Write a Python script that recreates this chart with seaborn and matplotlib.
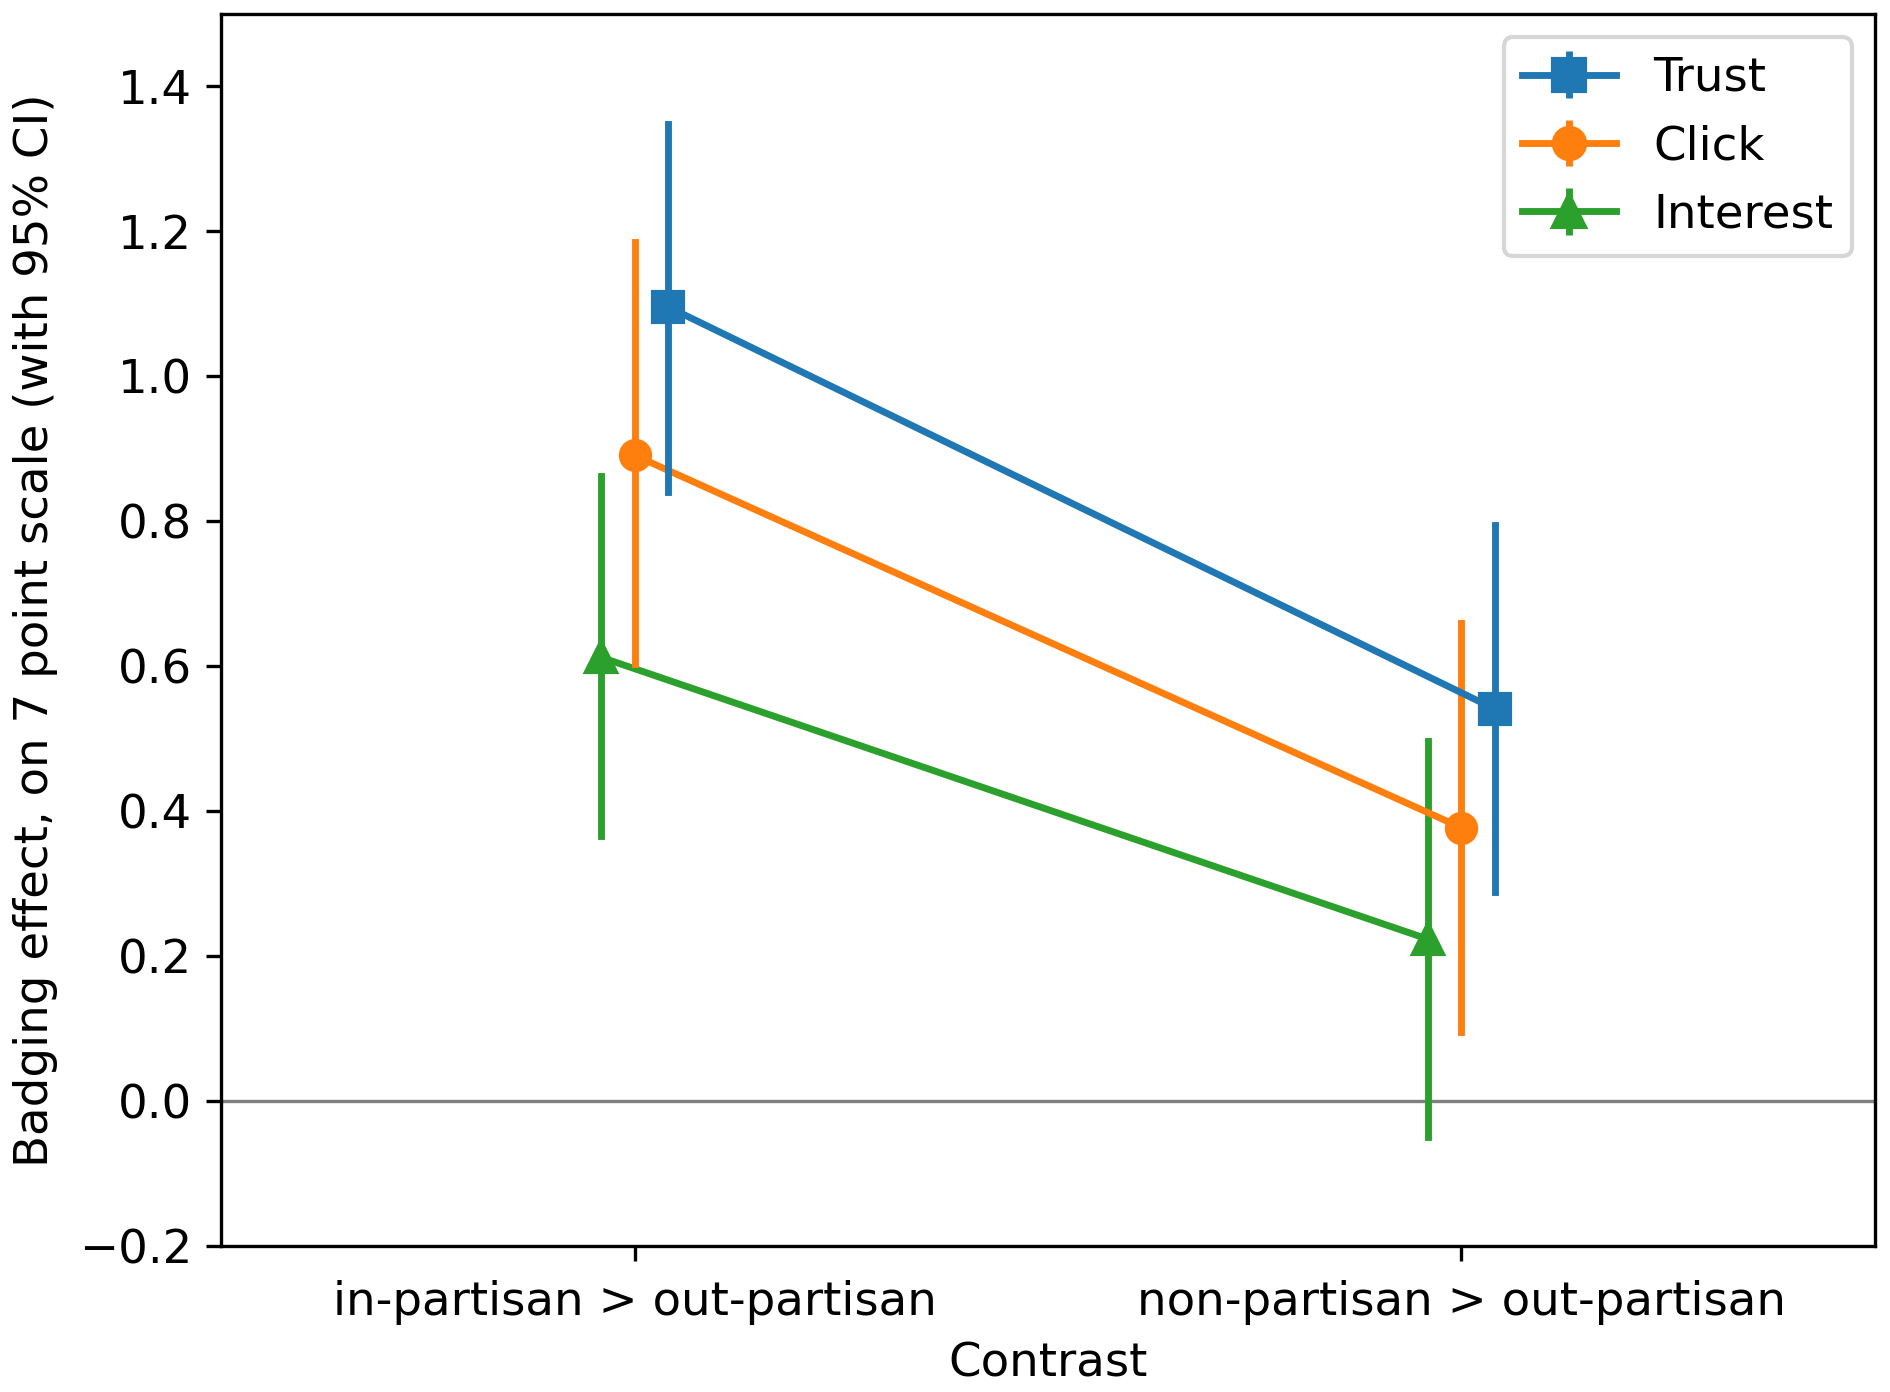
import numpy as np
import pandas as pd
import matplotlib
matplotlib.use("Agg")
import matplotlib.pyplot as plt
import seaborn as sns

# Kontras dan ukuran
contrasts = ["in-partisan > out-partisan", "non-partisan > out-partisan"]
measures = ["Trust", "Click", "Interest"]

# Estimasi efek dan batas 95% CI
trust_est = [1.096, 0.541]
trust_lo = [0.840, 0.288]
trust_hi = [1.348, 0.795]

click_est = [0.891, 0.377]
click_lo = [0.603, 0.095]
click_hi = [1.185, 0.660]

interest_est = [0.612, 0.223]
interest_lo = [0.365, -0.050]
interest_hi = [0.862, 0.496]

colors = {"Trust": "#1f77b4", "Click": "#ff7f0e", "Interest": "#2ca02c"}
markers = {"Trust": "s", "Click": "o", "Interest": "^"}

# Tabel panjang: tiap grup berisi [lo, est, hi] -> median = est, min/max = CI
series = {
    "Trust": (trust_lo, trust_est, trust_hi),
    "Click": (click_lo, click_est, click_hi),
    "Interest": (interest_lo, interest_est, interest_hi),
}
rows = []
for m, (lo, est, hi) in series.items():
    for i, c in enumerate(contrasts):
        for v in (lo[i], est[i], hi[i]):
            rows.append({"Contrast": c, "measure": m, "value": v})
df = pd.DataFrame(rows)

plt.rcParams["font.size"] = 11.2
plt.rcParams["xtick.major.pad"] = 4.6

fig, ax = plt.subplots(figsize=(6.3, 4.64), dpi=300)
fig.subplots_adjust(left=0.117, right=0.992, top=0.99, bottom=0.105)

hue_order = ["Interest", "Click", "Trust"]
ax.axhline(0, color="grey", lw=0.8, zorder=0)
sns.pointplot(
    data=df, x="Contrast", y="value", hue="measure", hue_order=hue_order,
    estimator="median", errorbar=lambda v: (v.min(), v.max()),
    dodge=0.08, markers=[markers[m] for m in hue_order],
    palette=colors, linewidth=1.65, markersize=7, markeredgewidth=1.0,
    err_kws={"linewidth": 1.65}, legend=False, ax=ax,
)

ax.set_ylim(-0.2, 1.5)
ax.set_xlim(-0.5, 1.5)
ax.set_xlabel("Contrast")
ax.set_ylabel("Badging effect, on 7 point scale (with 95% CI)", labelpad=5)

# Legenda bergaya errorbar
handles = []
for m in measures:
    h = ax.errorbar([np.nan], [np.nan], yerr=[np.nan], color=colors[m],
                    marker=markers[m], lw=1.65, markersize=7.5, label=m)
    handles.append(h)
ax.legend(handles=handles, labels=measures, loc="upper right")

plt.savefig("out.png", dpi=300)
